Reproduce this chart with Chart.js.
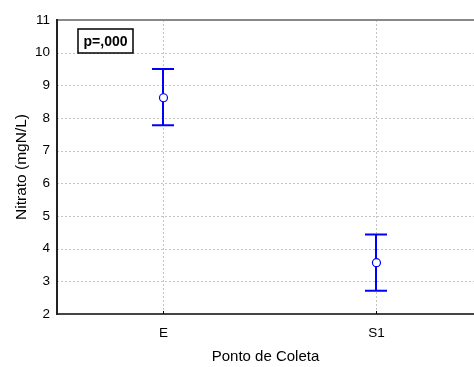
<!DOCTYPE html>
<html>
<head>
<meta charset="utf-8">
<script src="https://cdn.jsdelivr.net/npm/chart.js@4/dist/chart.umd.min.js"></script>
<style>
  html, body { margin: 0; padding: 0; background: #fff; overflow: hidden; }
  #wrap { width: 474px; height: 367px; position: relative; }
</style>
</head>
<body>
<div id="wrap"><canvas id="c"></canvas></div>
<script>
// Sampling points and nitrate statistics (mean with interval bounds)
const categories = ['E', 'S1'];
const means = [8.62, 3.57];
const lower = [7.78, 2.71];
const upper = [9.50, 4.43];
const yTicks = [2, 3, 4, 5, 6, 7, 8, 9, 10, 11];
const pLabel = 'p=,000';

const BLUE = '#0000ff';
const FONT = 'Arial, "Liberation Sans", sans-serif';

// Dotted grid, frame and tick marks
const framePlugin = {
  id: 'frame',
  beforeDatasetsDraw(chart) {
    const { ctx, chartArea: a, scales: { x, y } } = chart;
    ctx.save();
    ctx.strokeStyle = '#c4c4c4';
    ctx.lineWidth = 1;
    ctx.setLineDash([2, 2]);
    yTicks.forEach(v => {
      if (v === 2 || v === 11) return;
      const py = Math.round(y.getPixelForValue(v)) + 0.5;
      ctx.beginPath(); ctx.moveTo(a.left, py); ctx.lineTo(a.right, py); ctx.stroke();
    });
    categories.forEach((c, i) => {
      const px = Math.round(x.getPixelForValue(i)) + 0.5;
      ctx.beginPath(); ctx.moveTo(px, a.top); ctx.lineTo(px, a.bottom); ctx.stroke();
    });
    ctx.setLineDash([]);
    // top border
    ctx.strokeStyle = '#888';
    ctx.lineWidth = 2;
    ctx.beginPath(); ctx.moveTo(a.left, a.top); ctx.lineTo(a.right, a.top); ctx.stroke();
    // bottom axis
    ctx.strokeStyle = '#444';
    ctx.beginPath(); ctx.moveTo(a.left, a.bottom); ctx.lineTo(a.right, a.bottom); ctx.stroke();
    // left axis
    ctx.strokeStyle = '#222';
    ctx.beginPath(); ctx.moveTo(a.left, a.top - 1); ctx.lineTo(a.left, a.bottom + 1); ctx.stroke();
    // small category tick marks
    ctx.lineWidth = 1;
    ctx.strokeStyle = '#000';
    categories.forEach((c, i) => {
      const px = Math.round(x.getPixelForValue(i)) + 0.5;
      ctx.beginPath(); ctx.moveTo(px, a.bottom); ctx.lineTo(px, a.bottom - 3); ctx.stroke();
    });
    ctx.restore();
  }
};

// Interval whiskers with caps
const errorBarPlugin = {
  id: 'errorBars',
  beforeDatasetsDraw(chart) {
    const { ctx, scales: { x, y } } = chart;
    ctx.save();
    ctx.strokeStyle = BLUE;
    ctx.lineWidth = 2;
    categories.forEach((c, i) => {
      const px = Math.round(x.getPixelForValue(i));
      const yl = y.getPixelForValue(lower[i]);
      const yu = y.getPixelForValue(upper[i]);
      ctx.beginPath();
      ctx.moveTo(px, yl); ctx.lineTo(px, yu);
      ctx.moveTo(px - 11, yl); ctx.lineTo(px + 11, yl);
      ctx.moveTo(px - 11, yu); ctx.lineTo(px + 11, yu);
      ctx.stroke();
    });
    ctx.restore();
  }
};

// Boxed p-value annotation
const pBoxPlugin = {
  id: 'pBox',
  afterDatasetsDraw(chart) {
    const { ctx, chartArea: a } = chart;
    const bx = a.left + 21, by = a.top + 9, bw = 55, bh = 24;
    ctx.save();
    ctx.fillStyle = '#fff';
    ctx.fillRect(bx, by, bw, bh);
    ctx.strokeStyle = '#000';
    ctx.lineWidth = 1.5;
    ctx.strokeRect(bx, by, bw, bh);
    ctx.fillStyle = '#000';
    ctx.font = 'bold 14px ' + FONT;
    ctx.textAlign = 'center';
    ctx.textBaseline = 'middle';
    ctx.fillText(pLabel, bx + bw / 2, by + bh / 2 + 1);
    ctx.restore();
  }
};

new Chart(document.getElementById('c'), {
  type: 'scatter',
  data: {
    datasets: [{
      data: categories.map((c, i) => ({ x: i, y: means[i] })),
      pointRadius: 4,
      pointHoverRadius: 4,
      pointBackgroundColor: '#fff',
      pointBorderColor: BLUE,
      pointBorderWidth: 1.2,
      showLine: false,
      clip: false
    }]
  },
  options: {
    responsive: true,
    maintainAspectRatio: false,
    animation: false,
    events: [],
    layout: { autoPadding: false, padding: { top: 20, right: 0, left: 0, bottom: 0 } },
    plugins: { legend: { display: false }, tooltip: { enabled: false } },
    scales: {
      x: {
        type: 'linear',
        min: -0.5,
        max: 1.458,
        afterBuildTicks(scale) { scale.ticks = categories.map((c, i) => ({ value: i })); },
        afterFit(scale) {
          scale.height = 53;
          scale.paddingLeft = 0;
          scale.paddingRight = 0;
        },
        grid: { display: true, color: 'rgba(0,0,0,0)', drawTicks: false, drawOnChartArea: false },
        border: { display: false },
        ticks: {
          padding: 11,
          color: '#000',
          font: { family: FONT, size: 13.5 },
          callback: (v) => categories[v] ?? ''
        },
        title: {
          display: true,
          text: 'Ponto de Coleta',
          color: '#000',
          font: { family: FONT, size: 15 },
          padding: { top: 0, bottom: 1 }
        }
      },
      y: {
        min: 2,
        max: 11,
        afterBuildTicks(scale) { scale.ticks = yTicks.map(v => ({ value: v })); },
        afterFit(scale) { scale.width = 57; },
        grid: { display: true, color: 'rgba(0,0,0,0)', drawTicks: false, drawOnChartArea: false },
        border: { display: false },
        ticks: {
          padding: 7,
          color: '#000',
          font: { family: FONT, size: 13.5 }
        },
        title: {
          display: true,
          text: 'Nitrato (mgN/L)',
          color: '#000',
          font: { family: FONT, size: 15.5 },
          padding: { top: 12, bottom: 0 }
        }
      }
    }
  },
  plugins: [framePlugin, errorBarPlugin, pBoxPlugin]
});
</script>
</body>
</html>
